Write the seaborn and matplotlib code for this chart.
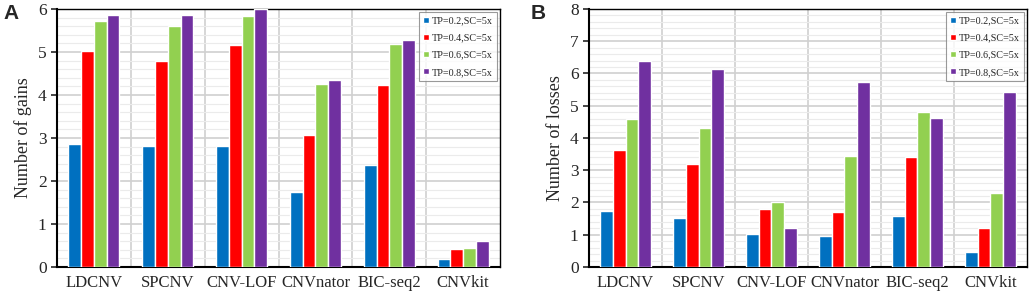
import matplotlib
matplotlib.use("Agg")
import matplotlib.pyplot as plt
from matplotlib.ticker import MultipleLocator
import numpy as np
import pandas as pd
import seaborn as sns

tools = ["LDCNV", "SPCNV", "CNV-LOF", "CNVnator", "BIC-seq2", "CNVkit"]
series = ["TP=0.2,SC=5x", "TP=0.4,SC=5x", "TP=0.6,SC=5x", "TP=0.8,SC=5x"]
colors = ["#0070C0", "#FF0000", "#92D050", "#7030A0"]

gains_02 = [2.85, 2.82, 2.82, 1.75, 2.38, 0.18]
gains_04 = [5.03, 4.78, 5.15, 3.07, 4.23, 0.43]
gains_06 = [5.73, 5.60, 5.83, 4.25, 5.18, 0.45]
gains_08 = [5.87, 5.85, 6.00, 4.35, 5.28, 0.60]

losses_02 = [1.73, 1.53, 1.03, 0.95, 1.59, 0.47]
losses_04 = [3.63, 3.19, 1.80, 1.71, 3.41, 1.20]
losses_06 = [4.58, 4.31, 2.02, 3.43, 4.79, 2.29]
losses_08 = [6.40, 6.13, 1.22, 5.73, 4.62, 5.42]


def to_long(cols):
    rows = []
    for name, vals in zip(series, cols):
        for tool, v in zip(tools, vals):
            rows.append({"tool": tool, "setting": name, "value": v})
    return pd.DataFrame(rows)


sns.set_theme(style="white")
plt.rcParams["font.family"] = ["Liberation Serif", "DejaVu Serif"]
plt.rcParams["axes.unicode_minus"] = False


def draw(ax, df, ymax, ylabel):
    sns.barplot(data=df, x="tool", y="value", hue="setting", hue_order=series,
                palette=colors, width=0.69, edgecolor="white", linewidth=1.0,
                saturation=1, ax=ax, zorder=3)
    ax.set_ylim(0, ymax)
    ax.set_xlim(-0.5, len(tools) - 0.5)
    ax.yaxis.set_major_locator(MultipleLocator(1))
    ax.yaxis.set_minor_locator(MultipleLocator(0.2))
    ax.set_xticks(np.arange(0.5, len(tools) - 0.5), minor=True)
    ax.grid(axis="y", which="major", color="#d0d0d0", linewidth=1.2, zorder=0)
    ax.grid(axis="y", which="minor", color="#ebebeb", linewidth=0.8, zorder=0)
    ax.grid(axis="x", which="minor", color="#d0d0d0", linewidth=1.2, zorder=0)
    ax.set_axisbelow(True)
    ax.tick_params(axis="x", which="both", length=0, labelsize=12, pad=6)
    ax.tick_params(axis="y", which="major", length=4, width=1.2, labelsize=12.5,
                   left=True, direction="out")
    ax.tick_params(axis="y", which="minor", length=0)
    for side in ["left", "bottom", "top", "right"]:
        ax.spines[side].set_visible(True)
        ax.spines[side].set_color("black")
    ax.spines["left"].set_linewidth(1.5)
    ax.spines["bottom"].set_linewidth(1.5)
    ax.spines["top"].set_linewidth(1.0)
    ax.spines["right"].set_linewidth(1.0)
    ax.set_xlabel("")
    ax.set_ylabel(ylabel, fontsize=13, labelpad=4)
    leg = ax.legend(loc="upper right", fontsize=7.3, frameon=True, fancybox=False,
                    edgecolor="#808080", handlelength=0.55, handleheight=0.55,
                    handletextpad=0.25, labelspacing=0.8, borderpad=0.45,
                    borderaxespad=0.3)
    leg.get_frame().set_linewidth(0.8)


fig = plt.figure(figsize=(10.31, 2.97), dpi=100)
ax_a = fig.add_axes([0.0553, 0.101, 0.4297, 0.869])
ax_b = fig.add_axes([0.5713, 0.101, 0.4248, 0.869])

draw(ax_a, to_long([gains_02, gains_04, gains_06, gains_08]), 6,
     "Number of gains")
draw(ax_b, to_long([losses_02, losses_04, losses_06, losses_08]), 8,
     "Number of losses")

fig.text(0.003, 0.955, "A", fontsize=15, fontweight="bold",
         family="Liberation Sans", ha="left", va="center")
fig.text(0.515, 0.955, "B", fontsize=15, fontweight="bold",
         family="Liberation Sans", ha="left", va="center")

fig.savefig("out.png", dpi=100)
